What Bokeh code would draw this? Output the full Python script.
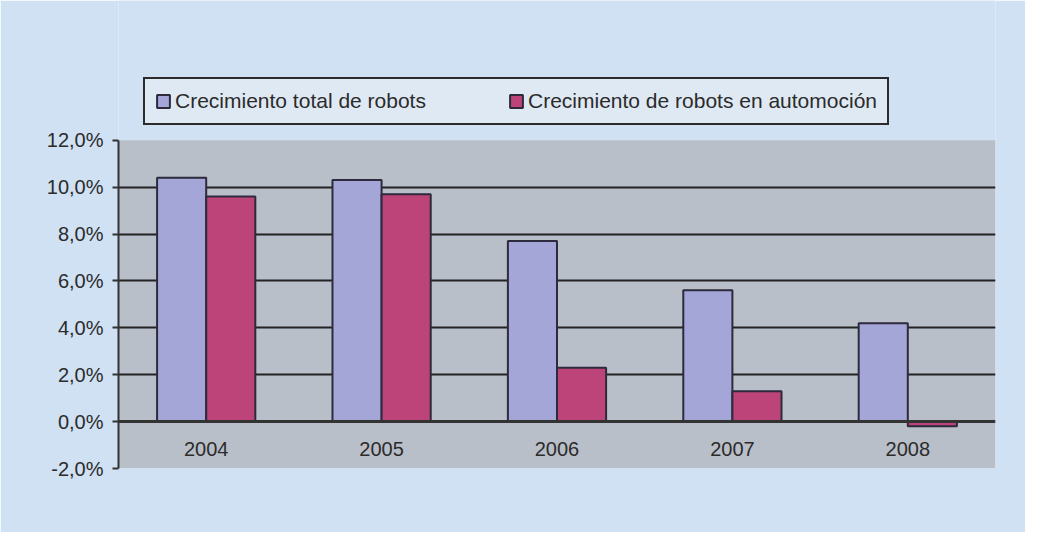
from bokeh.plotting import figure
from bokeh.models import (ColumnDataSource, FactorRange, Range1d, FixedTicker,
                          Legend, LegendItem, BoxAnnotation)
from bokeh.transform import dodge
from bokeh.embed import file_html
from bokeh.resources import INLINE

years = ["2004", "2005", "2006", "2007", "2008"]
total_growth = [10.4, 10.3, 7.7, 5.6, 4.2]
auto_growth = [9.6, 9.7, 2.3, 1.3, -0.2]
y_ticks = [-2, 0, 2, 4, 6, 8, 10, 12]
y_tick_labels = ["-2,0%", "0,0%", "2,0%", "4,0%", "6,0%", "8,0%", "10,0%", "12,0%"]
series_names = ["Crecimiento total de robots", "Crecimiento de robots en automoción"]

src = ColumnDataSource(dict(year=years, total=total_growth, auto=auto_growth))

FONT = "Liberation Sans"
TXT = "#2b2b2b"
Y_MIN, Y_MAX = y_ticks[0], y_ticks[-1]

# the frame reaches up to the top of the figure; the room above 12 % holds the legend
p = figure(width=1025, height=532, x_range=FactorRange(*years),
           y_range=Range1d(Y_MIN, 17.96), output_backend="svg", toolbar_location=None,
           min_border_left=118, min_border_right=30, min_border_top=0,
           min_border_bottom=64)
p.background_fill_color = "#cfe1f3"
p.border_fill_color = "#cfe1f3"
p.outline_line_color = None

# grey plot area between -2 % and 12 %
p.add_layout(BoxAnnotation(bottom=Y_MIN, top=Y_MAX, fill_color="#b9bfc8", fill_alpha=1,
                           line_color=None, level="image"))

r1 = p.vbar(x=dodge("year", -0.14, range=p.x_range), top="total", bottom=0, width=0.28,
            source=src, fill_color="#a4a6d7", line_color="#2d2a3e", line_width=2)
r2 = p.vbar(x=dodge("year", 0.14, range=p.x_range), top="auto", bottom=0, width=0.28,
            source=src, fill_color="#bd4479", line_color="#2d2a3e", line_width=2)

# y axis
p.yaxis.ticker = FixedTicker(ticks=y_ticks)
p.yaxis.bounds = (Y_MIN, Y_MAX)
p.yaxis.major_label_overrides = {t: l for t, l in zip(y_ticks, y_tick_labels)}
p.yaxis.axis_line_color = "#333333"
p.yaxis.axis_line_width = 2
p.yaxis.major_tick_line_color = "#333333"
p.yaxis.major_tick_line_width = 2
p.yaxis.major_tick_out = 6
p.yaxis.major_tick_in = 0
p.yaxis.minor_tick_line_color = None
p.yaxis.major_label_standoff = 9
p.yaxis.major_label_text_font = FONT
p.yaxis.major_label_text_font_size = "20px"
p.yaxis.major_label_text_color = TXT

# x axis at zero
p.xaxis.fixed_location = 0
p.xaxis.axis_line_color = "#333333"
p.xaxis.axis_line_width = 3
p.xaxis.major_tick_line_color = None
p.xaxis.major_tick_out = 0
p.xaxis.major_tick_in = 0
p.xaxis.major_label_standoff = 20
p.xaxis.major_label_text_font = FONT
p.xaxis.major_label_text_font_size = "20px"
p.xaxis.major_label_text_color = TXT

# grid
p.xgrid.grid_line_color = None
p.ygrid.ticker = FixedTicker(ticks=[2, 4, 6, 8, 10])
p.ygrid.grid_line_color = "#222222"
p.ygrid.grid_line_width = 2
p.ygrid.level = "underlay"

legend = Legend(items=[LegendItem(label=series_names[0], renderers=[r1]),
                       LegendItem(label=series_names[1], renderers=[r2])],
                orientation="horizontal", location=(25, 343))
legend.background_fill_color = "#dfe9f4"
legend.background_fill_alpha = 1
legend.border_line_color = "#2b2b2b"
legend.border_line_alpha = 1
legend.border_line_width = 2
legend.padding = 10
legend.glyph_width = 16
legend.glyph_height = 16
legend.label_standoff = 4
legend.spacing = 82
legend.label_text_font = FONT
legend.label_text_font_size = "21px"
legend.label_text_color = TXT
p.add_layout(legend, "center")

open("out.html", "w").write(file_html(p, INLINE))
